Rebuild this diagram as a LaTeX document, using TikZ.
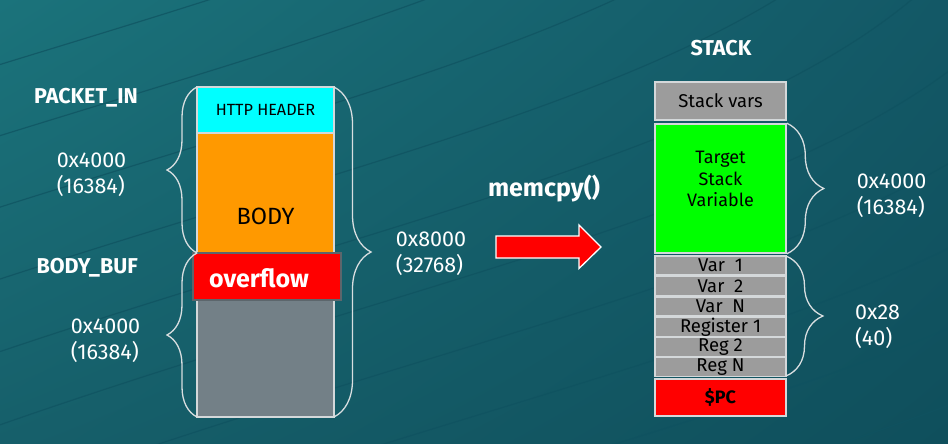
\documentclass[tikz,border=0pt]{standalone}
\usepackage{fontspec}
\setmainfont{Fira Sans}
\usetikzlibrary{decorations.pathreplacing,shadings}
\definecolor{bgUL}{HTML}{1B737B}
\definecolor{bgUR}{HTML}{135866}
\definecolor{bgLL}{HTML}{165F6A}
\definecolor{bgLR}{HTML}{0F4F5C}
\definecolor{bgline}{HTML}{0F5260}
\definecolor{cyanbox}{HTML}{00FFFF}
\definecolor{orangebox}{HTML}{FF9900}
\definecolor{redbox}{HTML}{FF0000}
\definecolor{slatebox}{HTML}{738087}
\definecolor{graybox}{HTML}{9C9C9C}
\definecolor{greenbox}{HTML}{00FF00}
\definecolor{edge}{HTML}{D4D8DA}
\definecolor{bracec}{HTML}{D8DEE0}
\begin{document}
\begin{tikzpicture}[x=1pt,y=-1pt,
  blk/.style={draw=edge,line width=1.6pt,inner sep=0pt,minimum width=131pt},
  lbl/.style={text=white,font=\fontsize{21.5}{26}\selectfont,align=left,inner sep=0pt},
  blbl/.style={text=white,font=\bfseries\fontsize{21.5}{24}\selectfont,inner sep=0pt},
  rowtxt/.style={font=\fontsize{18.5}{19}\selectfont,text=black},
  brc/.style={draw=bracec,line width=1.3pt,decorate,decoration={brace,amplitude=#1}}
]
% background
\useasboundingbox (0,0) rectangle (948,444);
\shade[upper left=bgUL,upper right=bgUR,lower left=bgLL,lower right=bgLR] (0,0) rectangle (948,444);
\begin{scope}
\clip (0,0) rectangle (948,444);
\foreach \k in {-6,...,8}{
  \draw[bgline,line width=1.2pt,opacity=0.7,shift={(\k*62,\k*52)}]
    (-150,330) .. controls (300,170) and (700,100) .. (880,-80);
}
\end{scope}

% left column
\node[blk,fill=cyanbox,minimum width=137pt,minimum height=46pt] (hdr) at (265.5,110) {\fontsize{16.2}{18}\selectfont HTTP HEADER};
\node[blk,fill=orangebox,minimum width=137pt,minimum height=120pt] (body) at (265.5,193) {};
\node[blk,fill=slatebox,minimum width=137pt,minimum height=117pt] (rest) at (265.5,358.5) {};
\node[draw=slatebox!80!black,line width=1.2pt,fill=redbox,minimum width=148pt,minimum height=47pt,inner sep=0pt] (ovf) at (267,276.5) {};
\node[font=\fontsize{23.5}{25}\selectfont,text=black] (bodytxt) at (265.5,216) {BODY};
\node[font=\bfseries\fontsize{25}{27}\selectfont,text=white] (ovftxt) at (259,278) {overflow};

% left braces
\coordinate (b1s) at (197,253);
\coordinate (b1e) at (197,87);
\draw[brc=30pt] (b1s) -- (b1e);
\coordinate (b2s) at (197,417);
\coordinate (b2e) at (197,253);
\draw[brc=30pt] (b2s) -- (b2e);
\coordinate (b3s) at (334,87);
\coordinate (b3e) at (334,417);
\draw[brc=37pt] (b3s) -- (b3e);

% left labels
\node[blbl,anchor=east] (pin) at (138,98) {PACKET\_IN};
\node[lbl] (sz1) at (91.5,175) {0x4000\\(16384)};
\node[blbl,anchor=east] (bbuf) at (138,268) {BODY\_BUF};
\node[lbl] (sz2) at (105.5,341) {0x4000\\(16384)};
\node[lbl] (sz3) at (431,254) {0x8000\\(32768)};

% memcpy + arrow
\node[blbl,font=\bfseries\fontsize{25}{27}\selectfont] (mc) at (544,189) {memcpy()};
\coordinate (arrtail) at (496,247);
\coordinate (arrtip) at (601,247);
\draw[draw=white,line width=1.3pt,fill=redbox,line join=miter]
  ([shift={(0,-11)}]arrtail) -- ++(83,0) -- ++(0,-11) -- (arrtip) -- ++(-22,21.5) -- ++(0,-10.5) -- ++(-83,0) -- cycle;

% stack
\node[blbl] (stk) at (721,48) {STACK};
\node[blk,fill=graybox,minimum height=38pt] (svars) at (720.5,101) {\fontsize{18.5}{20}\selectfont Stack vars};
\node[blk,fill=greenbox,minimum height=129pt] (tgt) at (720.5,188.5) {};
\node[font=\fontsize{18}{21.5}\selectfont,align=center,text=black] (tgttxt) at (720.5,179) {Target\\Stack\\Variable};
\node[blk,fill=graybox,minimum height=19pt] (v1) at (720.5,265.5) {};
\node[blk,fill=graybox,minimum height=19pt] (v2) at (720.5,286) {};
\node[blk,fill=graybox,minimum height=19pt] (vn) at (720.5,306.5) {};
\node[blk,fill=graybox,minimum height=19pt] (r1) at (720.5,327) {};
\node[blk,fill=graybox,minimum height=19pt] (r2) at (720.5,347) {};
\node[blk,fill=graybox,minimum height=19pt] (rn) at (720.5,367) {};
\node[rowtxt] at (v1) {Var\ \ 1};
\node[rowtxt] at (v2) {Var\ \ 2};
\node[rowtxt] at (vn) {Var\ \ N};
\node[rowtxt] at (r1) {Register 1};
\node[rowtxt] at (r2) {Reg 2};
\node[rowtxt] at (rn) {Reg N};
\node[blk,fill=redbox,minimum height=37pt,font=\bfseries\fontsize{18}{20}\selectfont] (pc) at (720.5,397.5) {\$PC};

% right braces
\draw[brc=37pt] (tgt.north east) -- (tgt.south east);
\coordinate (b5s) at (786,256);
\coordinate (b5e) at (786,376);
\draw[brc=37pt] (b5s) -- (b5e);

\node[lbl] (sz4) at (891.5,196) {0x4000\\(16384)};
\node[lbl,anchor=west] (sz5) at (855,327) {0x28\\(40)};
\end{tikzpicture}
\end{document}
